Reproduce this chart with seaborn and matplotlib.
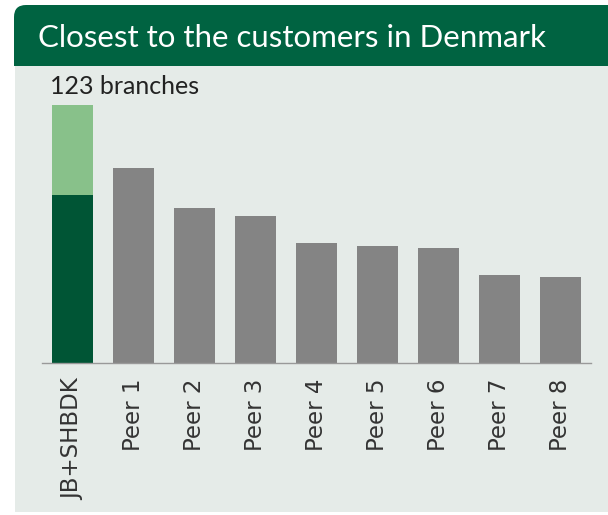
import matplotlib
matplotlib.use("Agg")
import matplotlib.pyplot as plt
from matplotlib.patches import FancyBboxPatch, Rectangle
import seaborn as sns
import pandas as pd

categories = ["JB+SHBDK", "Peer 1", "Peer 2", "Peer 3", "Peer 4", "Peer 5", "Peer 6", "Peer 7", "Peer 8"]
totals = [123, 93, 74, 70, 57, 56, 55, 42, 41]
jb_dark = 80  # JB part of JB+SHBDK (SHBDK stacked on top)
title = "Closest to the customers in Denmark"
annotation = "123 branches"

sns.set_theme(style="white")
plt.rcParams['font.family'] = ['Lato', 'DejaVu Sans']

DARK = "#005535"
LIGHT = "#88c18a"
GREY = "#848484"
PANEL = "#e5ebe8"
BANNER = "#006341"

fig = plt.figure(figsize=(6.08, 5.15), dpi=100)
fig.patch.set_facecolor("white")

# panel background
fig.patches.append(Rectangle((0.15, 0.03), 6.0, 4.46, transform=fig.dpi_scale_trans,
                             facecolor=PANEL, edgecolor="none", zorder=0))
# banner with rounded top-left corner
fig.patches.append(FancyBboxPatch((0.14, 4.49), 6.3, 0.61, boxstyle="round,pad=0,rounding_size=0.12",
                                  transform=fig.dpi_scale_trans, facecolor=BANNER,
                                  edgecolor="none", zorder=0))
fig.patches.append(Rectangle((0.14, 4.49), 6.3, 0.2, transform=fig.dpi_scale_trans,
                             facecolor=BANNER, edgecolor="none", zorder=0))
fig.text(38 / 608, 1 - 38 / 515, title, color="white", fontsize=22.5, va="center", ha="left")

ax = fig.add_axes([42 / 608, (515 - 363) / 515, 549 / 608, 263 / 515])
ax.set_zorder(2)
ax.set_facecolor("none")

df = pd.DataFrame({"cat": categories, "val": totals})
palette = {c: (LIGHT if c == "JB+SHBDK" else GREY) for c in categories}
sns.barplot(data=df, x="cat", y="val", hue="cat", palette=palette, order=categories,
            width=0.67, ax=ax, legend=False, saturation=1, linewidth=0)
df2 = pd.DataFrame({"cat": ["JB+SHBDK"], "val": [jb_dark]})
sns.barplot(data=df2, x="cat", y="val", order=categories, color=DARK,
            width=0.67, ax=ax, saturation=1, linewidth=0)

ax.set_xlim(-0.5, len(categories) - 0.5)
ax.set_ylim(0, 123 * 263 / 258)
for s in ["top", "right", "left"]:
    ax.spines[s].set_visible(False)
ax.spines["bottom"].set_color("#999999")
ax.spines["bottom"].set_linewidth(1.0)
ax.set_yticks([])
ax.set_xlabel("")
ax.set_ylabel("")
ax.set_xticks(range(len(categories)))
ax.set_xticklabels(categories, rotation=90, fontsize=16.5, color="#333333",
                   family=["DejaVu Sans"])
ax.tick_params(axis="x", which="major", length=0, pad=11)
ax.set_xticks([i - 0.5 for i in range(len(categories) + 1)], minor=True)
ax.tick_params(axis="x", which="minor", length=8, width=1, color="#999999", direction="out")

fig.text(50 / 608, 1 - 86 / 515, annotation, color="#222222", fontsize=18, va="center", ha="left")

fig.savefig("out.png", dpi=100)
